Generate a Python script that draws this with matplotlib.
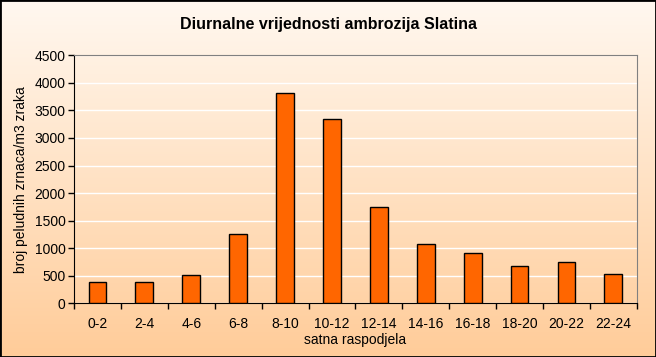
import numpy as np
import matplotlib.pyplot as plt
from matplotlib.ticker import FixedLocator, NullFormatter

plt.rcParams['font.family'] = ['Liberation Sans', 'DejaVu Sans']

categories = ['0-2', '2-4', '4-6', '6-8', '8-10', '10-12', '12-14',
              '14-16', '16-18', '18-20', '20-22', '22-24']
values = [380, 380, 510, 1250, 3810, 3340, 1740, 1070, 910, 670, 745, 525]

fig = plt.figure(figsize=(6.56, 3.57), dpi=100)

# gradient background for the whole chart
bg = fig.add_axes([0, 0, 1, 1], zorder=-5)
top = np.array([255, 248, 240]) / 255
bot = np.array([255, 204, 153]) / 255
t = np.linspace(0, 1, 256)[:, None]
grad = top + (bot - top) * t
bg.imshow(grad[:, None, :].repeat(2, axis=1), aspect='auto', extent=[0, 1, 0, 1])
bg.set_xlim(0, 1)
bg.set_ylim(0, 1)
bg.set_xticks([])
bg.set_yticks([])
for s in bg.spines.values():
    s.set_linewidth(2)
    s.set_color('black')

ax = fig.add_axes([0.1128, 0.1504, 0.858, 0.6946])
ax.set_facecolor('none')

x = np.arange(len(categories))
ax.bar(x, values, width=0.38, color='#FF6600', edgecolor='black', linewidth=1, zorder=3)

ax.set_xlim(-0.5, len(categories) - 0.5)
ax.set_ylim(0, 4500)
ax.set_yticks(np.arange(0, 4501, 500))
ax.yaxis.grid(True, color='white', linewidth=1, zorder=0)
ax.set_xticks(x)
ax.set_xticklabels(categories)
ax.xaxis.set_minor_locator(FixedLocator(np.arange(-0.5, len(categories), 1)))
ax.xaxis.set_minor_formatter(NullFormatter())
ax.tick_params(axis='x', which='major', length=0, pad=10, labelsize=10)
ax.tick_params(axis='x', which='minor', length=4, width=1, direction='out')
ax.tick_params(axis='y', length=4, width=1, labelsize=10, pad=2)

ax.spines['left'].set_color('black')
ax.spines['bottom'].set_color('black')
ax.spines['top'].set_color('#808080')
ax.spines['right'].set_color('#808080')

fig.text(0.5, 1 - 25 / 357, 'Diurnalne vrijednosti ambrozija Slatina',
         fontsize=11.5, fontweight='bold', ha='center', va='center')
ax.set_xlabel('satna raspodjela', fontsize=10, labelpad=1)
ax.set_ylabel('broj peludnih zrnaca/m3 zraka', fontsize=10, labelpad=5)

fig.savefig('out.png', dpi=100)
